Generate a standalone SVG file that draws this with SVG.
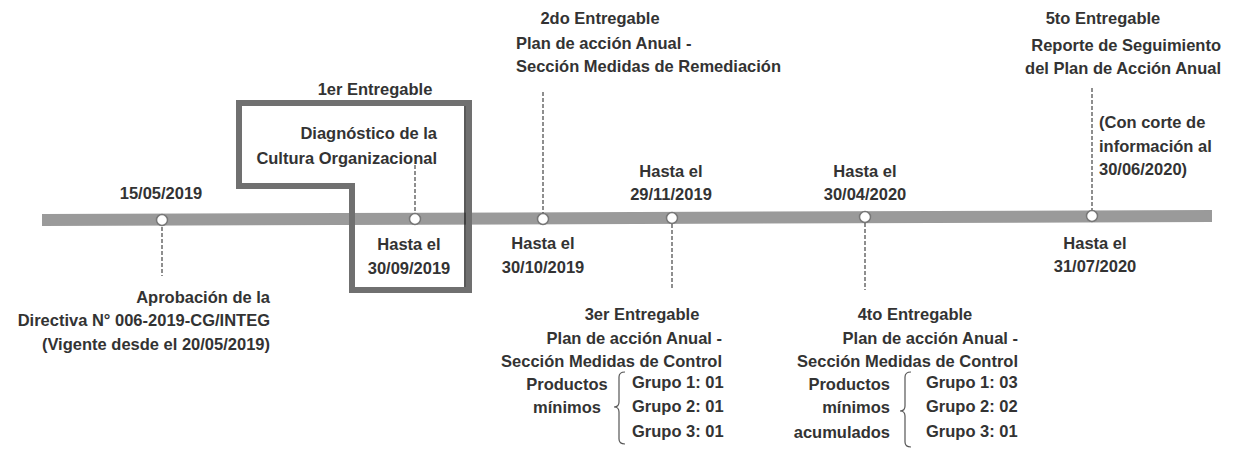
<svg xmlns="http://www.w3.org/2000/svg" width="1235" height="450" viewBox="0 0 1235 450">
<style>
text{font-family:"Liberation Sans",Arial,sans-serif;font-weight:bold;font-size:16.5px;fill:#333}
.m{text-anchor:middle}.e{text-anchor:end}
.dash{stroke:#444;stroke-width:1.2;stroke-dasharray:4 2;fill:none}
.brace{stroke:#555;stroke-width:1.2;fill:none}
.dot{fill:#fff;stroke:#777;stroke-width:1.5}
</style>
<rect width="1235" height="450" fill="#fff"/>
<g id="timeline">
<polygon points="42,214 1212,210 1212,222 42,226" fill="#9a9a9a"/>
</g>
<g id="connectors">
<line class="dash" x1="162" y1="227" x2="162" y2="276"/>
<line class="dash" x1="415" y1="165" x2="415" y2="213"/>
<line class="dash" x1="543" y1="92" x2="543" y2="213"/>
<line class="dash" x1="672" y1="224" x2="672" y2="290"/>
<line class="dash" x1="865" y1="223" x2="865" y2="290"/>
<line class="dash" x1="1092" y1="88" x2="1092" y2="211"/>
</g>
<g id="box1">
<path d="M239,103 H469 V290 H352 V186 H239 Z" fill="none" stroke="#707070" stroke-width="6" stroke-linejoin="miter"/>
<line x1="465" y1="106" x2="465" y2="287" stroke="#222" stroke-width="1.5"/>
</g>
<g id="m1">
<circle class="dot" cx="162" cy="220" r="5.5"/>
<text class="m" x="161" y="199">15/05/2019</text>
<text class="e" x="270" y="303">Aprobación de la</text>
<text class="e" x="270" y="326">Directiva N° 006-2019-CG/INTEG</text>
<text class="e" x="270" y="350">(Vigente desde el 20/05/2019)</text>
</g>
<g id="m2">
<circle class="dot" cx="415" cy="219" r="5.5"/>
<text class="m" x="375" y="95">1er Entregable</text>
<text class="e" x="437" y="139">Diagnóstico de la</text>
<text class="e" x="437" y="164">Cultura Organizacional</text>
<text class="m" x="409" y="250">Hasta el</text>
<text class="m" x="409" y="274">30/09/2019</text>
</g>
<g id="m3">
<circle class="dot" cx="543" cy="219" r="5.5"/>
<text class="m" x="600" y="24">2do Entregable</text>
<text x="516" y="49">Plan de acción Anual -</text>
<text x="516" y="72">Sección Medidas de Remediación</text>
<text class="m" x="543" y="249">Hasta el</text>
<text class="m" x="543" y="273">30/10/2019</text>
</g>
<g id="m4">
<circle class="dot" cx="672" cy="218" r="5.5"/>
<text class="m" x="671" y="177">Hasta el</text>
<text class="m" x="671" y="200">29/11/2019</text>
<text class="m" x="642" y="320">3er Entregable</text>
<text class="e" x="722" y="344">Plan de acción Anual  -</text>
<text class="e" x="722" y="367">Sección Medidas de Control</text>
<text class="m" x="567" y="390">Productos</text>
<text class="m" x="567" y="413">mínimos</text>
<path class="brace" d="M625,372 Q619,372 619,377 V402 Q619,407 614,407 Q619,407 619,412 V439 Q619,444 625,444"/>
<text x="632" y="388">Grupo 1: 01</text>
<text x="632" y="412">Grupo 2: 01</text>
<text x="632" y="437">Grupo 3: 01</text>
</g>
<g id="m5">
<circle class="dot" cx="865" cy="217" r="5.5"/>
<text class="m" x="865" y="177">Hasta el</text>
<text class="m" x="865" y="200">30/04/2020</text>
<text class="m" x="915" y="320">4to Entregable</text>
<text class="e" x="1018" y="344">Plan de acción Anual  -</text>
<text class="e" x="1018" y="367">Sección Medidas de Control</text>
<text class="e" x="890" y="390">Productos</text>
<text class="e" x="890" y="413">mínimos</text>
<text class="e" x="890" y="438">acumulados</text>
<path class="brace" d="M911,372 Q905,372 905,377 V406 Q905,411 900,411 Q905,411 905,416 V442 Q905,447 911,447"/>
<text x="926" y="388">Grupo 1: 03</text>
<text x="926" y="412">Grupo 2: 02</text>
<text x="926" y="437">Grupo 3: 01</text>
</g>
<g id="m6">
<circle class="dot" cx="1092" cy="216" r="5.5"/>
<text class="m" x="1103" y="24">5to Entregable</text>
<text class="e" x="1221" y="51">Reporte de Seguimiento</text>
<text class="e" x="1221" y="74">del Plan de Acción Anual</text>
<text x="1099" y="128">(Con corte de</text>
<text x="1099" y="152">información al</text>
<text x="1099" y="175">30/06/2020)</text>
<text class="m" x="1095" y="249">Hasta el</text>
<text class="m" x="1095" y="272">31/07/2020</text>
</g>
</svg>
